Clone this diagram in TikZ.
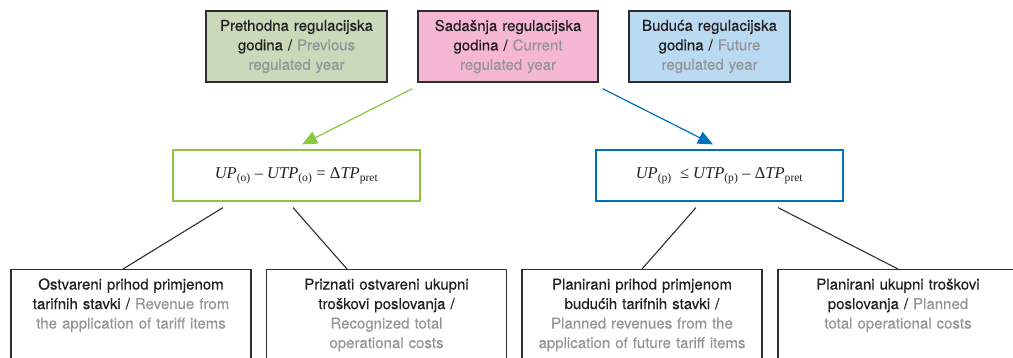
\documentclass[tikz,border=0pt]{standalone}
\usepackage{fontspec}
\setmainfont{TeX Gyre Heros}[UprightFeatures={FakeBold=0.3}]
\newfontfamily\tnr{Liberation Serif}
\usepackage{xcolor}
\usetikzlibrary{arrows.meta}

\definecolor{txtblack}{HTML}{231F20}
\definecolor{txtgrey}{HTML}{939598}
\definecolor{prevfill}{HTML}{C9D9B9}
\definecolor{curfill}{HTML}{F5B7D3}
\definecolor{futfill}{HTML}{BADAF2}
\definecolor{boxline}{HTML}{2E2E2E}
\definecolor{arrgreen}{HTML}{8CC63F}
\definecolor{arrblue}{HTML}{0072BC}

\newcommand{\engl}[1]{\textcolor{txtgrey}{#1}}
\newcommand{\subs}[1]{\textsubscript{#1}}

\begin{document}
\begin{tikzpicture}[x=1pt, y=-1pt,
	every node/.style={text=txtblack, font=\fontsize{15}{19.5}\selectfont},
	yearbox/.style={draw=boxline, line width=1.3pt, align=center, minimum height=71pt, inner sep=0pt},
	rulebox/.style={line width=1.2pt, minimum width=247pt, minimum height=51pt, font=\tnr\fontsize{16.5}{18}\selectfont},
	itembox/.style={draw=boxline, line width=1.1pt, anchor=north, text width=240pt, align=center, inner sep=0pt, text height=20pt, text depth=100pt},
	link/.style={boxline, line width=1.1pt}]

	\useasboundingbox (0,0) rectangle (1013,357);

	% regulated years
	\node[yearbox, fill=prevfill, text width=181pt] (prev) at (296.5,46.5) {Prethodna regulacijska\\ godina / \engl{Previous}\\ \engl{regulated year}};
	\node[yearbox, fill=curfill, text width=180pt] (cur) at (508,46.5) {Sadašnja regulacijska\\ godina / \engl{Current}\\ \engl{regulated year}};
	\node[yearbox, fill=futfill, text width=161pt] (fut) at (709.5,46.5) {Buduća regulacijska\\ godina / \engl{Future}\\ \engl{regulated year}};

	% rules
	\node[rulebox, draw=arrgreen] (rprev) at (296.5,175.5) {\textit{UP}\subs{(o)} – \textit{UTP}\subs{(o)} = Δ\textit{TP}\subs{pret}};
	\node[rulebox, draw=arrblue] (rfut) at (719.5,175.5) {\textit{UP}\subs{(p)}\enspace≤ \textit{UTP}\subs{(p)} – Δ\textit{TP}\subs{pret}};

	% revenues and costs
	\node[itembox] (itA) at (131,269) {Ostvareni prihod primjenom\\ tarifnih stavki / \engl{Revenue from}\\ \engl{the application of tariff items}};
	\node[itembox] (itB) at (386.5,269) {Priznati ostvareni ukupni\\ troškovi poslovanja /\\ \engl{Recognized total}\\ \engl{operational costs}};
	\node[itembox] (itC) at (642,269) {Planirani prihod primjenom\\ budućih tarifnih stavki /\\ \engl{Planned revenues from the}\\ \engl{application of future tariff items}};
	\node[itembox] (itD) at (898,269) {Planirani ukupni troškovi\\ poslovanja / \engl{Planned}\\ \engl{total operational costs}};

	% Arrows
	\draw[-{Triangle[length=15pt,width=13pt]}, arrgreen, line width=1.2pt] ([xshift=-5pt,yshift=-6pt]cur.south west) -- ([xshift=5.5pt,yshift=5pt]rprev.north);
	\draw[-{Triangle[length=15pt,width=13pt]}, arrblue, line width=1.2pt] ([xshift=4pt,yshift=-6pt]cur.south east) -- ([xshift=-6.5pt,yshift=5pt]rfut.north);

	% links
	\draw[link] ([xshift=-73.5pt,yshift=-6pt]rprev.south) -- ([xshift=-8pt]itA.north);
	\draw[link] ([xshift=-3.5pt,yshift=-6pt]rprev.south) -- ([xshift=-39.5pt]itB.north);
	\draw[link] ([xshift=-23.5pt,yshift=-6pt]rfut.south) -- (itC.north);
	\draw[link] ([xshift=58.5pt,yshift=-6pt]rfut.south) -- (itD.north);

\end{tikzpicture}
\end{document}
